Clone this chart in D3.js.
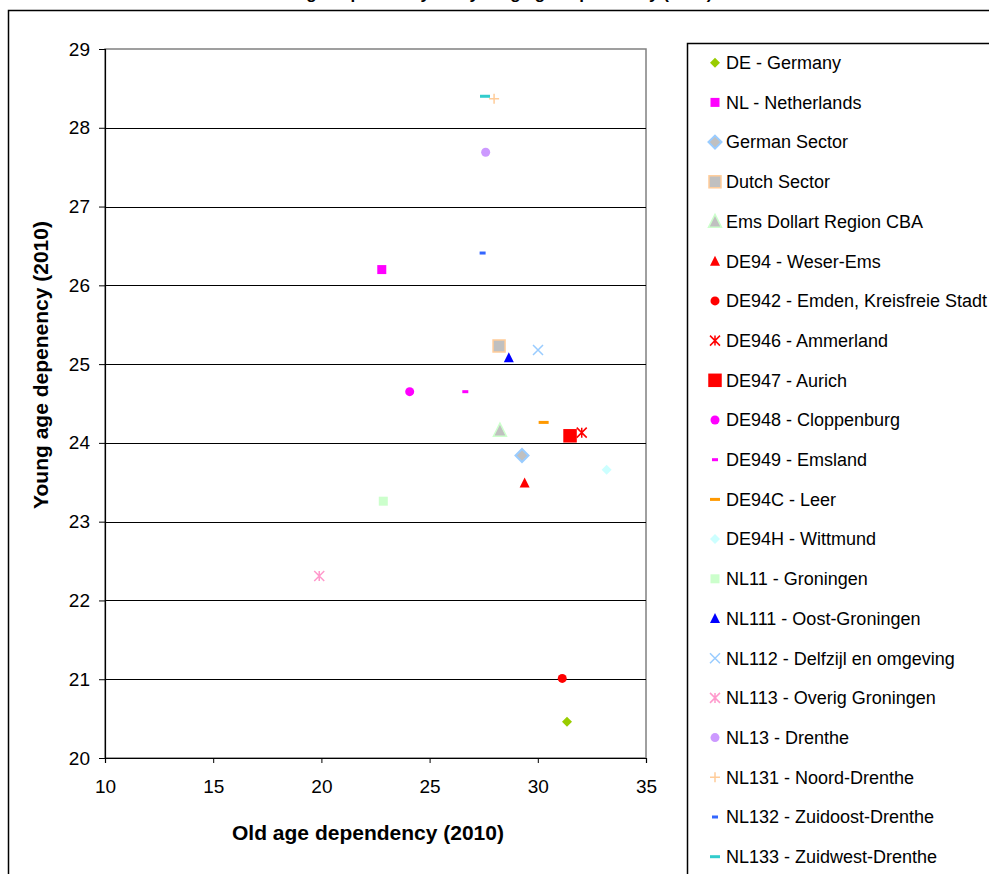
<!DOCTYPE html>
<html lang="en">
<head>
<meta charset="UTF-8">
<title>Young vs old age dependency (2010)</title>
<script src="https://d3js.org/d3.v7.min.js"></script>
<style>
  body { margin: 0; background: #fff; }
  svg { display: block; font-family: "Liberation Sans", Arial, sans-serif; }
  .tick text { font-size: 19px; fill: #000; }
  .axis-title { font-size: 21px; font-weight: bold; }
  .chart-title { font-size: 17px; font-weight: bold; }
  .legend text { font-size: 18px; }
</style>
</head>
<body>
<svg width="989" height="874"></svg>
<script>
// series names, in legend order
const names = [
  "DE - Germany", "NL - Netherlands", "German Sector", "Dutch Sector",
  "Ems Dollart Region CBA", "DE94 - Weser-Ems", "DE942 - Emden, Kreisfreie Stadt",
  "DE946 - Ammerland", "DE947 - Aurich", "DE948 - Cloppenburg", "DE949 - Emsland",
  "DE94C - Leer", "DE94H - Wittmund", "NL11 - Groningen", "NL111 - Oost-Groningen",
  "NL112 - Delfzijl en omgeving", "NL113 - Overig Groningen", "NL13 - Drenthe",
  "NL131 - Noord-Drenthe", "NL132 - Zuidoost-Drenthe", "NL133 - Zuidwest-Drenthe"
];
// old age dependency (x) and young age dependency (y), 2010
const oldAge = [31.35, 22.79, 29.27, 28.21, 28.25, 29.39, 31.13, 32.03, 31.49, 24.08, 26.65,
                30.27, 33.18, 22.86, 28.66, 30.01, 19.90, 27.59, 27.98, 27.45, 27.56];
const youngAge = [20.46, 26.20, 23.84, 25.23, 24.16, 23.49, 21.01, 24.13, 24.09, 24.65, 24.65,
                  24.26, 23.66, 23.26, 25.08, 25.18, 22.31, 27.69, 28.37, 26.41, 28.40];
const xTicks = [10, 15, 20, 25, 30, 35];
const yTicks = [20, 21, 22, 23, 24, 25, 26, 27, 28, 29];

// marker look per series (same order as names)
const markers = [
  { shape: "diamond", r: 5, fill: "#99cc00" },
  { shape: "square", r: 4.5, fill: "#ff00ff" },
  { shape: "diamond", r: 6.5, fill: "#c0c0c0", stroke: "#99ccff", sw: 2 },
  { shape: "square", r: 6, fill: "#c0c0c0", stroke: "#ffcc99", sw: 1.5 },
  { shape: "triangle", r: 6.5, fill: "#c0c0c0", stroke: "#ccffcc", sw: 1.5 },
  { shape: "triangle", r: 5, fill: "#ff0000" },
  { shape: "circle", r: 4.5, fill: "#ff0000" },
  { shape: "star", r: 5, stroke: "#ff0000" },
  { shape: "square", r: 6.75, fill: "#ff0000" },
  { shape: "circle", r: 4.5, fill: "#ff00ff" },
  { shape: "dash", w: 6, h: 3, fill: "#ff00ff" },
  { shape: "dash", w: 10, h: 3, fill: "#ff9900" },
  { shape: "diamond", r: 5, fill: "#ccffff" },
  { shape: "square", r: 4.5, fill: "#ccffcc" },
  { shape: "triangle", r: 5, fill: "#0000ff" },
  { shape: "x", r: 5, stroke: "#99ccff" },
  { shape: "star", r: 5, stroke: "#ff99cc" },
  { shape: "circle", r: 4.5, fill: "#cc99ff" },
  { shape: "plus", r: 5, stroke: "#ffcc99" },
  { shape: "dash", w: 6, h: 3, fill: "#3366ff" },
  { shape: "dash", w: 10, h: 3, fill: "#33cccc" }
];

const svg = d3.select("svg");
const plot = { left: 105, right: 646, top: 49, bottom: 758 };

// outer chart frame (runs off the page on the right and bottom)
svg.append("rect")
  .attr("x", 8.5).attr("y", 10.5).attr("width", 1100).attr("height", 1000)
  .attr("fill", "none").attr("stroke", "#000").attr("stroke-width", 1.5);

// title, mostly cut off at the top edge as in the original
svg.append("text")
  .attr("class", "chart-title")
  .attr("x", 488).attr("y", -1)
  .attr("text-anchor", "middle")
  .text("Old age dependency and young age dependency (2010)");

const x = d3.scaleLinear().domain([10, 35]).range([plot.left, plot.right]);
const y = d3.scaleLinear().domain([20, 29]).range([plot.bottom, plot.top]);

// plot area border
svg.append("rect")
  .attr("x", plot.left).attr("y", plot.top)
  .attr("width", plot.right - plot.left).attr("height", plot.bottom - plot.top)
  .attr("fill", "none").attr("stroke", "#808080").attr("stroke-width", 1.5);

// gridlines
svg.append("g")
  .selectAll("line")
  .data(yTicks.filter(d => d > 20 && d < 29))
  .join("line")
  .attr("x1", plot.left).attr("x2", plot.right)
  .attr("y1", d => Math.round(y(d)) + 0.5).attr("y2", d => Math.round(y(d)) + 0.5)
  .attr("stroke", "#000").attr("stroke-width", 1);

const yAxis = svg.append("g")
  .attr("transform", `translate(${plot.left},0)`)
  .call(d3.axisLeft(y).tickValues(yTicks).tickFormat(d3.format("d")).tickSize(6).tickPadding(9));
const xAxis = svg.append("g")
  .attr("transform", `translate(0,${plot.bottom})`)
  .call(d3.axisBottom(x).tickValues(xTicks).tickFormat(d3.format("d")).tickSize(5).tickPadding(17));
[yAxis, xAxis].forEach(a => {
  a.select(".domain").attr("stroke", "#000").attr("stroke-width", 1.2);
  a.selectAll(".tick line").attr("stroke", "#000");
  a.attr("font-family", null).attr("font-size", null);
});

svg.append("text")
  .attr("class", "axis-title")
  .attr("x", 368).attr("y", 840)
  .attr("text-anchor", "middle")
  .text("Old age dependency (2010)");

svg.append("text")
  .attr("class", "axis-title")
  .attr("transform", "translate(48,365) rotate(-90)")
  .attr("text-anchor", "middle")
  .text("Young age depenency (2010)");

// draw one marker into a group centred on 0,0
function drawMarker(g, m) {
  const r = m.r;
  if (m.shape === "circle") {
    g.append("circle").attr("r", r).attr("fill", m.fill);
  } else if (m.shape === "square") {
    g.append("rect").attr("x", -r).attr("y", -r).attr("width", 2 * r).attr("height", 2 * r)
      .attr("fill", m.fill).attr("stroke", m.stroke || "none").attr("stroke-width", m.sw || 0);
  } else if (m.shape === "diamond") {
    g.append("path").attr("d", `M0,${-r}L${r},0L0,${r}L${-r},0Z`)
      .attr("fill", m.fill).attr("stroke", m.stroke || "none").attr("stroke-width", m.sw || 0);
  } else if (m.shape === "triangle") {
    g.append("path").attr("d", `M0,${-r * 1.1}L${r},${r * 0.9}L${-r},${r * 0.9}Z`)
      .attr("fill", m.fill).attr("stroke", m.stroke || "none").attr("stroke-width", m.sw || 0);
  } else if (m.shape === "dash") {
    g.append("rect").attr("x", -m.w / 2).attr("y", -m.h / 2).attr("width", m.w).attr("height", m.h)
      .attr("fill", m.fill);
  } else {
    let d = "";
    if (m.shape === "x" || m.shape === "star") d += `M${-r},${-r}L${r},${r}M${-r},${r}L${r},${-r}`;
    if (m.shape === "star") d += `M0,${-r}L0,${r}`;
    if (m.shape === "plus") d += `M${-r},0L${r},0M0,${-r}L0,${r}`;
    g.append("path").attr("d", d).attr("fill", "none")
      .attr("stroke", m.stroke).attr("stroke-width", 1.5);
  }
}

const points = d3.range(names.length);

svg.append("g")
  .selectAll("g")
  .data(points)
  .join("g")
  .attr("transform", i => `translate(${x(oldAge[i])},${y(youngAge[i])})`)
  .each(function (i) { drawMarker(d3.select(this), markers[i]); });

// legend
const legend = svg.append("g").attr("class", "legend");
legend.append("rect")
  .attr("x", 687.5).attr("y", 43.5).attr("width", 400).attr("height", 900)
  .attr("fill", "#fff").attr("stroke", "#000").attr("stroke-width", 1.5);

const item = legend.selectAll("g.item")
  .data(points)
  .join("g")
  .attr("class", "item")
  .attr("transform", i => `translate(715,${62.7 + i * 39.7})`);
item.each(function (i) { drawMarker(d3.select(this), markers[i]); });
item.append("text")
  .attr("x", 11).attr("dy", "0.35em")
  .text(i => names[i]);
</script>
</body>
</html>
